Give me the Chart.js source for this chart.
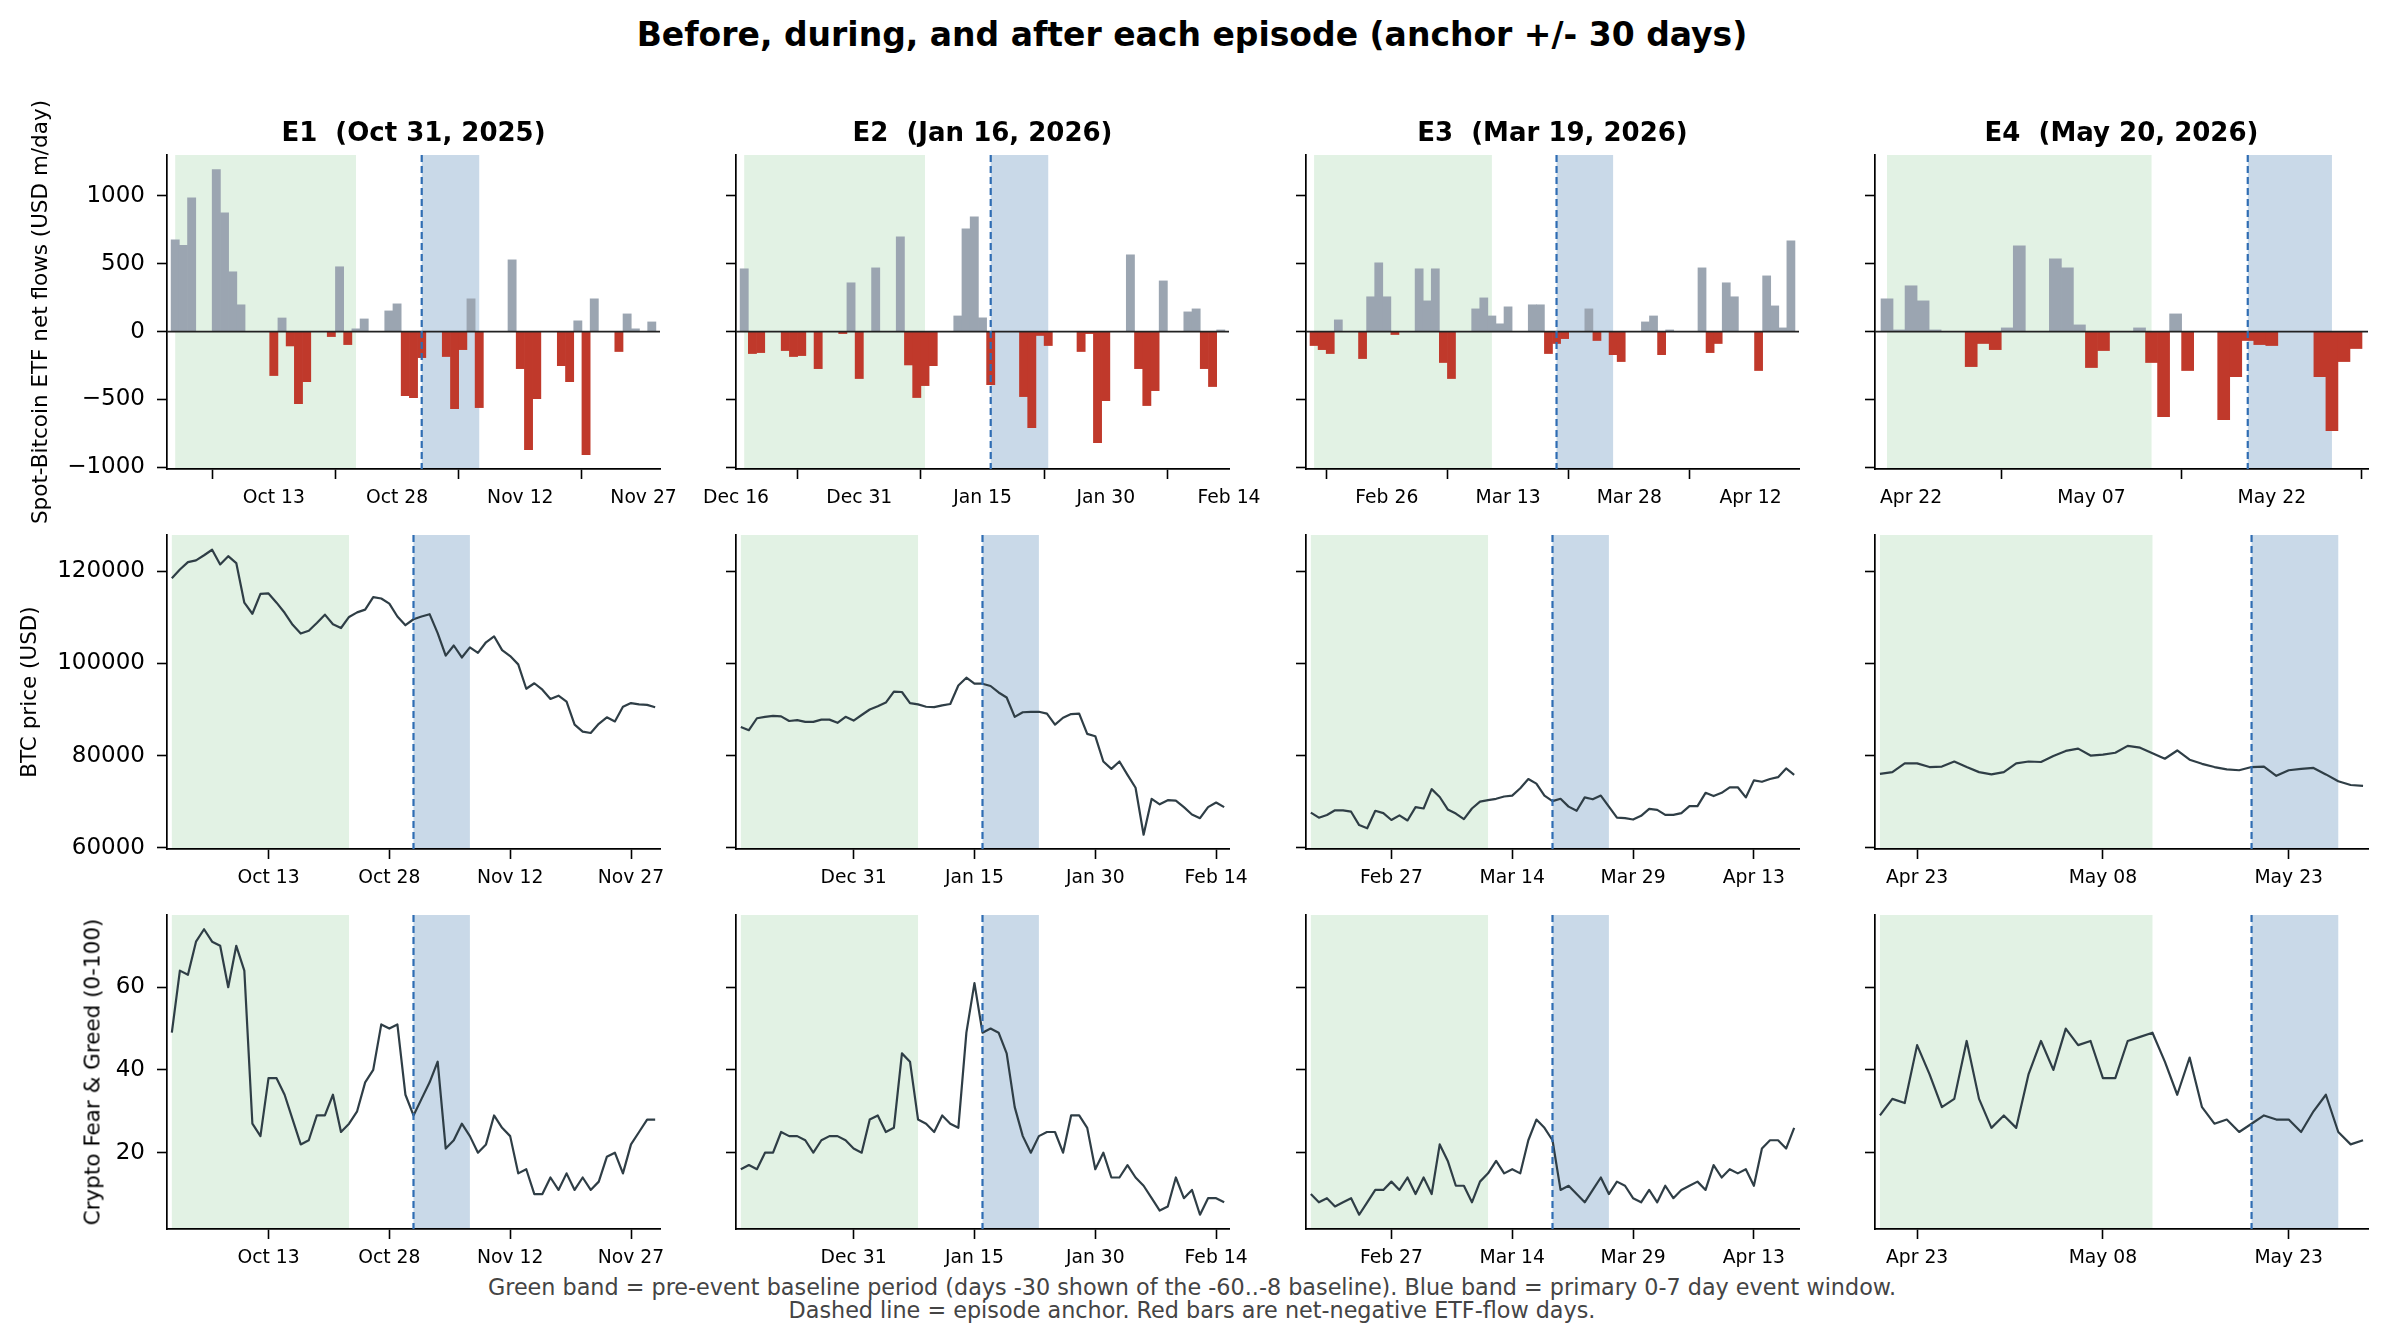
<!DOCTYPE html>
<html>
<head>
<meta charset="utf-8">
<title>Before, during, and after each episode</title>
<script src="https://cdn.jsdelivr.net/npm/chart.js@4.4.1/dist/chart.umd.min.js"></script>
<style>
  body { margin: 0; background: #fff; width: 2385px; height: 1341px; position: relative; overflow: hidden;
         font-family: "DejaVu Sans", sans-serif; }
  canvas { position: absolute; }
  .txt { position: absolute; white-space: pre; transform: translate(-50%, -50%); color: #000; }
  .suptitle { font-weight: bold; font-size: 33px; }
  .axtitle { font-weight: bold; font-size: 26px; }
  .ylab { font-size: 21.5px; }
  .foot { font-size: 22.3px; color: #444; }
</style>
</head>
<body>
<div class="txt suptitle" style="left:1192px; top:34px;">Before, during, and after each episode (anchor +/- 30 days)</div>
<div class="txt foot" style="left:1192px; top:1287px;">Green band = pre-event baseline period (days -30 shown of the -60..-8 baseline). Blue band = primary 0-7 day event window.</div>
<div class="txt foot" style="left:1192px; top:1310px;">Dashed line = episode anchor. Red bars are net-negative ETF-flow days.</div>
<script>
"use strict";

// ---- data (day offsets from each anchor; flows start at day -30) ----
const TITLES = ["E1  (Oct 31, 2025)", "E2  (Jan 16, 2026)", "E3  (Mar 19, 2026)", "E4  (May 20, 2026)"];
const Y_LABELS = ["Spot-Bitcoin ETF net flows (USD m/day)", "BTC price (USD)", "Crypto Fear & Greed (0-100)"];

const BASELINE = [-30, -8];
const EVENT = [0, 7];
const ANCHOR = 0;
const FIRST_DAY = -30;

// spot ETF net flows, USD m/day
const E1_FLOW = [676, 634, 985, 0, 0, 1192, 875, 440, 197, 0,
  0, 0, -324, 100, -106, -531, -369, 0, 0, -37,
  477, -96, 20, 93, 0, 0, 152, 204, -472, -487,
  -192, 0, 0, -184, -568, -133, 241, -560, 0, 0,
  0, 528, -273, -870, -494, 0, 0, -251, -369, 79,
  -907, 241, 0, 0, -147, 130, 20, 0, 71];
const E2_FLOW = [462, -162, -155, 0, 0, -140, -184, -177, 0, -273,
  0, 0, -15, 359, -346, 0, 469, 0, 0, 698,
  -246, -486, -398, -251, 0, 0, 115, 757, 845, 101,
  -391, 0, 0, 0, -479, -708, -29, -103, 0, 0,
  0, -147, -15, -818, -509, 0, 0, 565, -273, -545,
  -435, 373, 0, 0, 145, 167, -273, -405, 12];
const E3_FLOW = [-103, -133, -162, 86, 0, 0, -199, 256, 506, 256,
  -22, 0, 0, 462, 226, 462, -228, -346, 0, 0,
  167, 248, 115, 57, 182, 0, 0, 197, 197, -162,
  -88, -52, 0, 0, 167, -66, 0, -170, -221, 0,
  0, 71, 115, -170, 12, 0, 0, 0, 469, -155,
  -88, 359, 256, 0, 0, -287, 410, 189, 27, 668];
const E4_FLOW = [241, 12, 337, 226, 12, 0, 0, -258, -88, -133,
  27, 631, 0, 0, 536, 469, 49, -265, -140, 0,
  0, 27, -228, -627, 130, -287, 0, 0, -649, -332,
  -66, -96, -103, 0, 0, 0, -332, -730, -221, -125];

// BTC price, USD
const E1_PRICE = [118500, 120400, 122000, 122400, 123500, 124700, 121500, 123300, 121800, 113200,
  110800, 115100, 115200, 113200, 111000, 108400, 106500, 107100, 108800, 110600,
  108500, 107700, 110100, 111100, 111700, 114400, 114100, 113000, 110200, 108300,
  109600, 110200, 110700, 106600, 101700, 103900, 101300, 103500, 102300, 104600,
  105900, 102900, 101600, 99800, 94500, 95700, 94300, 92300, 93000, 91700,
  86700, 85200, 84900, 86900, 88300, 87400, 90600, 91400, 91100, 91000, 90500];
const E2_PRICE = [86200, 85500, 88100, 88400, 88600, 88500, 87500, 87700, 87300, 87300,
  87800, 87800, 87100, 88400, 87600, 88800, 90000, 90700, 91500, 93900,
  93800, 91400, 91100, 90600, 90500, 90900, 91200, 95200, 96900, 95600,
  95600, 95100, 93700, 92600, 88400, 89400, 89500, 89500, 89100, 86700,
  88200, 89000, 89100, 84700, 84200, 78700, 77100, 78700, 75800, 73000,
  62800, 70600, 69400, 70300, 70200, 68800, 67200, 66400, 68800, 69800, 68800];
const E3_PRICE = [67600, 66500, 67100, 68100, 68100, 67800, 64900, 64200, 68000, 67500,
  66000, 67000, 65900, 68800, 68500, 72700, 71000, 68300, 67400, 66200,
  68500, 70000, 70300, 70600, 71100, 71300, 72900, 74900, 73900, 71300,
  70100, 70600, 68900, 68000, 70900, 70500, 71300, 68900, 66500, 66400,
  66100, 66900, 68400, 68200, 67100, 67100, 67500, 69000, 69000, 71900,
  71200, 71900, 73100, 73100, 70900, 74600, 74300, 74900, 75300, 77200, 75800];
const E4_PRICE = [76000, 76400, 78300, 78300, 77500, 77600, 78700, 77500, 76400, 75900,
  76400, 78300, 78700, 78600, 79900, 81000, 81500, 80000, 80200, 80600,
  82100, 81700, 80500, 79300, 81100, 79100, 78200, 77500, 77000, 76800,
  77500, 77600, 75600, 76800, 77100, 77300, 75900, 74400, 73600, 73400];

// Crypto Fear & Greed index
const E1_FG = [49, 64, 63, 71, 74, 71, 70, 60, 70, 64,
  27, 24, 38, 38, 34, 28, 22, 23, 29, 29,
  34, 25, 27, 30, 37, 40, 51, 50, 51, 34,
  29, 33, 37, 42, 21, 23, 27, 24, 20, 22,
  29, 26, 24, 15, 16, 10, 10, 14, 11, 15,
  11, 14, 11, 13, 19, 20, 15, 22, 25, 28, 28];
const E2_FG = [16, 17, 16, 20, 20, 25, 24, 24, 23, 20,
  23, 24, 24, 23, 21, 20, 28, 29, 25, 26,
  44, 42, 28, 27, 25, 29, 27, 26, 49, 61,
  49, 50, 49, 44, 31, 24, 20, 24, 25, 25,
  20, 29, 29, 26, 16, 20, 14, 14, 17, 14,
  12, 9, 6, 7, 14, 9, 11, 5, 9, 9, 8];
const E3_FG = [10, 8, 9, 7, 8, 9, 5, 8, 11, 11,
  13, 11, 14, 10, 14, 10, 22, 18, 12, 12,
  8, 13, 15, 18, 15, 16, 15, 23, 28, 26,
  23, 11, 12, 10, 8, 11, 14, 10, 13, 12,
  9, 8, 11, 8, 12, 9, 11, 12, 13, 11,
  17, 14, 16, 15, 16, 12, 21, 23, 23, 21, 26];
const E4_FG = [29, 33, 32, 46, 39, 31, 33, 47, 33, 26,
  29, 26, 39, 47, 40, 50, 46, 47, 38, 38,
  47, 48, 49, 42, 34, 43, 31, 27, 28, 25,
  27, 29, 28, 28, 25, 30, 34, 25, 22, 23];

// x tick positions (day offsets) and their date labels
const E1_TICKS = [-18, -3, 12, 27];
const E1_TICK_LABELS = ["Oct 13", "Oct 28", "Nov 12", "Nov 27"];
const E2_FLOW_TICKS = [-31, -16, -1, 14, 29];
const E2_FLOW_TICK_LABELS = ["Dec 16", "Dec 31", "Jan 15", "Jan 30", "Feb 14"];
const E2_TICKS = [-16, -1, 14, 29];
const E2_TICK_LABELS = ["Dec 31", "Jan 15", "Jan 30", "Feb 14"];
const E3_FLOW_TICKS = [-21, -6, 9, 24];
const E3_FLOW_TICK_LABELS = ["Feb 26", "Mar 13", "Mar 28", "Apr 12"];
const E3_TICKS = [-20, -5, 10, 25];
const E3_TICK_LABELS = ["Feb 27", "Mar 14", "Mar 29", "Apr 13"];
const E4_FLOW_TICKS = [-28, -13, 2];
const E4_FLOW_TICK_LABELS = ["Apr 22", "May 07", "May 22"];
const E4_TICKS = [-27, -12, 3];
const E4_TICK_LABELS = ["Apr 23", "May 08", "May 23"];

// y ticks per row
const FLOW_Y_TICKS = [-1000, -500, 0, 500, 1000];
const FLOW_Y_LABELS = ["\u22121000", "\u2212500", "0", "500", "1000"];
const PRICE_Y_TICKS = [60000, 80000, 100000, 120000];
const PRICE_Y_LABELS = ["60000", "80000", "100000", "120000"];
const FG_Y_TICKS = [20, 40, 60];
const FG_Y_LABELS = ["20", "40", "60"];

// ---- look ----
const FONT = "DejaVu Sans";
const GRAY = "#9ba5b1", RED = "#c0392b", LINE = "#2f3e46";
const GREEN_BAND = "#e2f2e4", BLUE_BAND = "#c9d9e8", ANCHOR_BLUE = "#2f6db3";

const AX_LEFT = [167, 736, 1306, 1875];
const AX_W = 493;
const AX_TOP = [155, 535, 915];
const AX_H = 314;
const YLAB_X = [39, 28, 91.5];
const PAD_T = 12, PAD_R = 45, PAD_B = 52;

const bandsPlugin = {
  id: "bands",
  beforeDraw(chart) {
    const {ctx, chartArea: a, scales: {x}} = chart;
    ctx.save();
    for (const [span, color] of [[BASELINE, GREEN_BAND], [EVENT, BLUE_BAND]]) {
      const x0 = Math.max(x.getPixelForValue(span[0]), a.left);
      const x1 = Math.min(x.getPixelForValue(span[1]), a.right);
      ctx.fillStyle = color;
      ctx.fillRect(x0, a.top, x1 - x0, a.bottom - a.top);
    }
    ctx.restore();
  },
  afterDatasetsDraw(chart, args, opts) {
    const {ctx, chartArea: a, scales: {x, y}} = chart;
    ctx.save();
    if (opts.zero) {
      const y0 = y.getPixelForValue(0);
      ctx.strokeStyle = "#222";
      ctx.lineWidth = 1.7;
      ctx.beginPath();
      ctx.moveTo(a.left, y0);
      ctx.lineTo(a.right, y0);
      ctx.stroke();
    }
    const xa = x.getPixelForValue(ANCHOR);
    ctx.strokeStyle = ANCHOR_BLUE;
    ctx.lineWidth = 2.2;
    ctx.setLineDash([7, 4]);
    ctx.beginPath();
    ctx.moveTo(xa, a.top);
    ctx.lineTo(xa, a.bottom);
    ctx.stroke();
    ctx.restore();
  }
};

function toPoints(values) {
  return values.map((v, i) => ({x: FIRST_DAY + i, y: v}));
}

function addText(text, cx, cy, cls, rotate) {
  const d = document.createElement("div");
  d.className = "txt " + cls;
  d.textContent = text;
  d.style.left = cx + "px";
  d.style.top = cy + "px";
  if (rotate) d.style.transform = "translate(-50%, -50%) rotate(-90deg)";
  document.body.appendChild(d);
}

function addPanel(row, col, p) {
  const padL = col === 0 ? AX_LEFT[0] : 60;
  const w = padL + AX_W + PAD_R, h = PAD_T + AX_H + PAD_B;
  const canvas = document.createElement("canvas");
  canvas.width = w;
  canvas.height = h;
  canvas.style.left = (AX_LEFT[col] - padL) + "px";
  canvas.style.top = (AX_TOP[row] - PAD_T) + "px";
  canvas.style.width = w + "px";
  canvas.style.height = h + "px";
  document.body.appendChild(canvas);

  const isBar = row === 0;
  const dataset = isBar ? {
    data: toPoints(p.values),
    backgroundColor: ctx => (ctx.raw && ctx.raw.y < 0 ? RED : GRAY),
    borderWidth: 0,
    barPercentage: 1.0,
    categoryPercentage: 1.0
  } : {
    data: toPoints(p.values),
    borderColor: LINE,
    borderWidth: 2.2,
    pointRadius: 0,
    tension: 0,
    fill: false,
    borderJoinStyle: "round"
  };

  new Chart(canvas, {
    type: isBar ? "bar" : "line",
    data: {datasets: [dataset]},
    plugins: [bandsPlugin],
    options: {
      responsive: false,
      animation: false,
      devicePixelRatio: 1,
      events: [],
      layout: {padding: {left: 0, top: PAD_T, right: PAD_R, bottom: 0}, autoPadding: false},
      plugins: {legend: {display: false}, tooltip: {enabled: false}, bands: {zero: isBar}},
      scales: {
        x: {
          type: "linear",
          min: p.xRange[0],
          max: p.xRange[1],
          offset: false,
          afterBuildTicks: s => { s.ticks = p.xTicks.map(v => ({value: v})); },
          afterFit: s => { s.height = PAD_B; s.paddingLeft = 0; s.paddingRight = 0; },
          grid: {drawOnChartArea: false, drawTicks: true, tickLength: 10, tickWidth: 1.6, tickColor: "#000"},
          border: {display: true, color: "#000", width: 1.7},
          ticks: {
            autoSkip: false, maxRotation: 0, minRotation: 0, padding: 8, color: "#000",
            font: {family: FONT, size: 18.75},
            callback: (v, i) => p.xLabels[i]
          }
        },
        y: {
          type: "linear",
          min: p.yRange[0],
          max: p.yRange[1],
          afterBuildTicks: s => { s.ticks = p.yTicks.map(v => ({value: v})); },
          afterFit: s => { s.width = padL; s.paddingTop = 0; s.paddingBottom = 0; },
          grid: {drawOnChartArea: false, drawTicks: true, tickLength: 10, tickWidth: 1.6, tickColor: "#000"},
          border: {display: true, color: "#000", width: 1.7},
          ticks: {
            padding: 12, color: "#000",
            font: {family: FONT, size: 23},
            callback: (v, i) => (col === 0 ? p.yLabels[i] : "")
          }
        }
      }
    }
  });
}

const FLOWS = [E1_FLOW, E2_FLOW, E3_FLOW, E4_FLOW];
const PRICES = [E1_PRICE, E2_PRICE, E3_PRICE, E4_PRICE];
const FGS = [E1_FG, E2_FG, E3_FG, E4_FG];
const FLOW_TICKS = [E1_TICKS, E2_FLOW_TICKS, E3_FLOW_TICKS, E4_FLOW_TICKS];
const FLOW_TICK_LABELS = [E1_TICK_LABELS, E2_FLOW_TICK_LABELS, E3_FLOW_TICK_LABELS, E4_FLOW_TICK_LABELS];
const LINE_TICKS = [E1_TICKS, E2_TICKS, E3_TICKS, E4_TICKS];
const LINE_TICK_LABELS = [E1_TICK_LABELS, E2_TICK_LABELS, E3_TICK_LABELS, E4_TICK_LABELS];
const FLOW_X_RANGE = [[-31, 29], [-31, 29], [-31, 30], [-31, 10]];
const LINE_X_RANGE = [[-30.6, 30.6], [-30.6, 30.6], [-30.6, 30.6], [-30.4, 9.4]];

for (let col = 0; col < 4; col++) {
  addPanel(0, col, {values: FLOWS[col], xRange: FLOW_X_RANGE[col], xTicks: FLOW_TICKS[col],
    xLabels: FLOW_TICK_LABELS[col], yRange: [-1012, 1300], yTicks: FLOW_Y_TICKS, yLabels: FLOW_Y_LABELS});
  addPanel(1, col, {values: PRICES[col], xRange: LINE_X_RANGE[col], xTicks: LINE_TICKS[col],
    xLabels: LINE_TICK_LABELS[col], yRange: [59700, 127900], yTicks: PRICE_Y_TICKS, yLabels: PRICE_Y_LABELS});
  addPanel(2, col, {values: FGS[col], xRange: LINE_X_RANGE[col], xTicks: LINE_TICKS[col],
    xLabels: LINE_TICK_LABELS[col], yRange: [1.55, 77.45], yTicks: FG_Y_TICKS, yLabels: FG_Y_LABELS});
  addText(TITLES[col], AX_LEFT[col] + AX_W / 2, 132, "axtitle", false);
}
for (let row = 0; row < 3; row++) {
  addText(Y_LABELS[row], YLAB_X[row], AX_TOP[row] + AX_H / 2, "ylab", true);
}
</script>
</body>
</html>
